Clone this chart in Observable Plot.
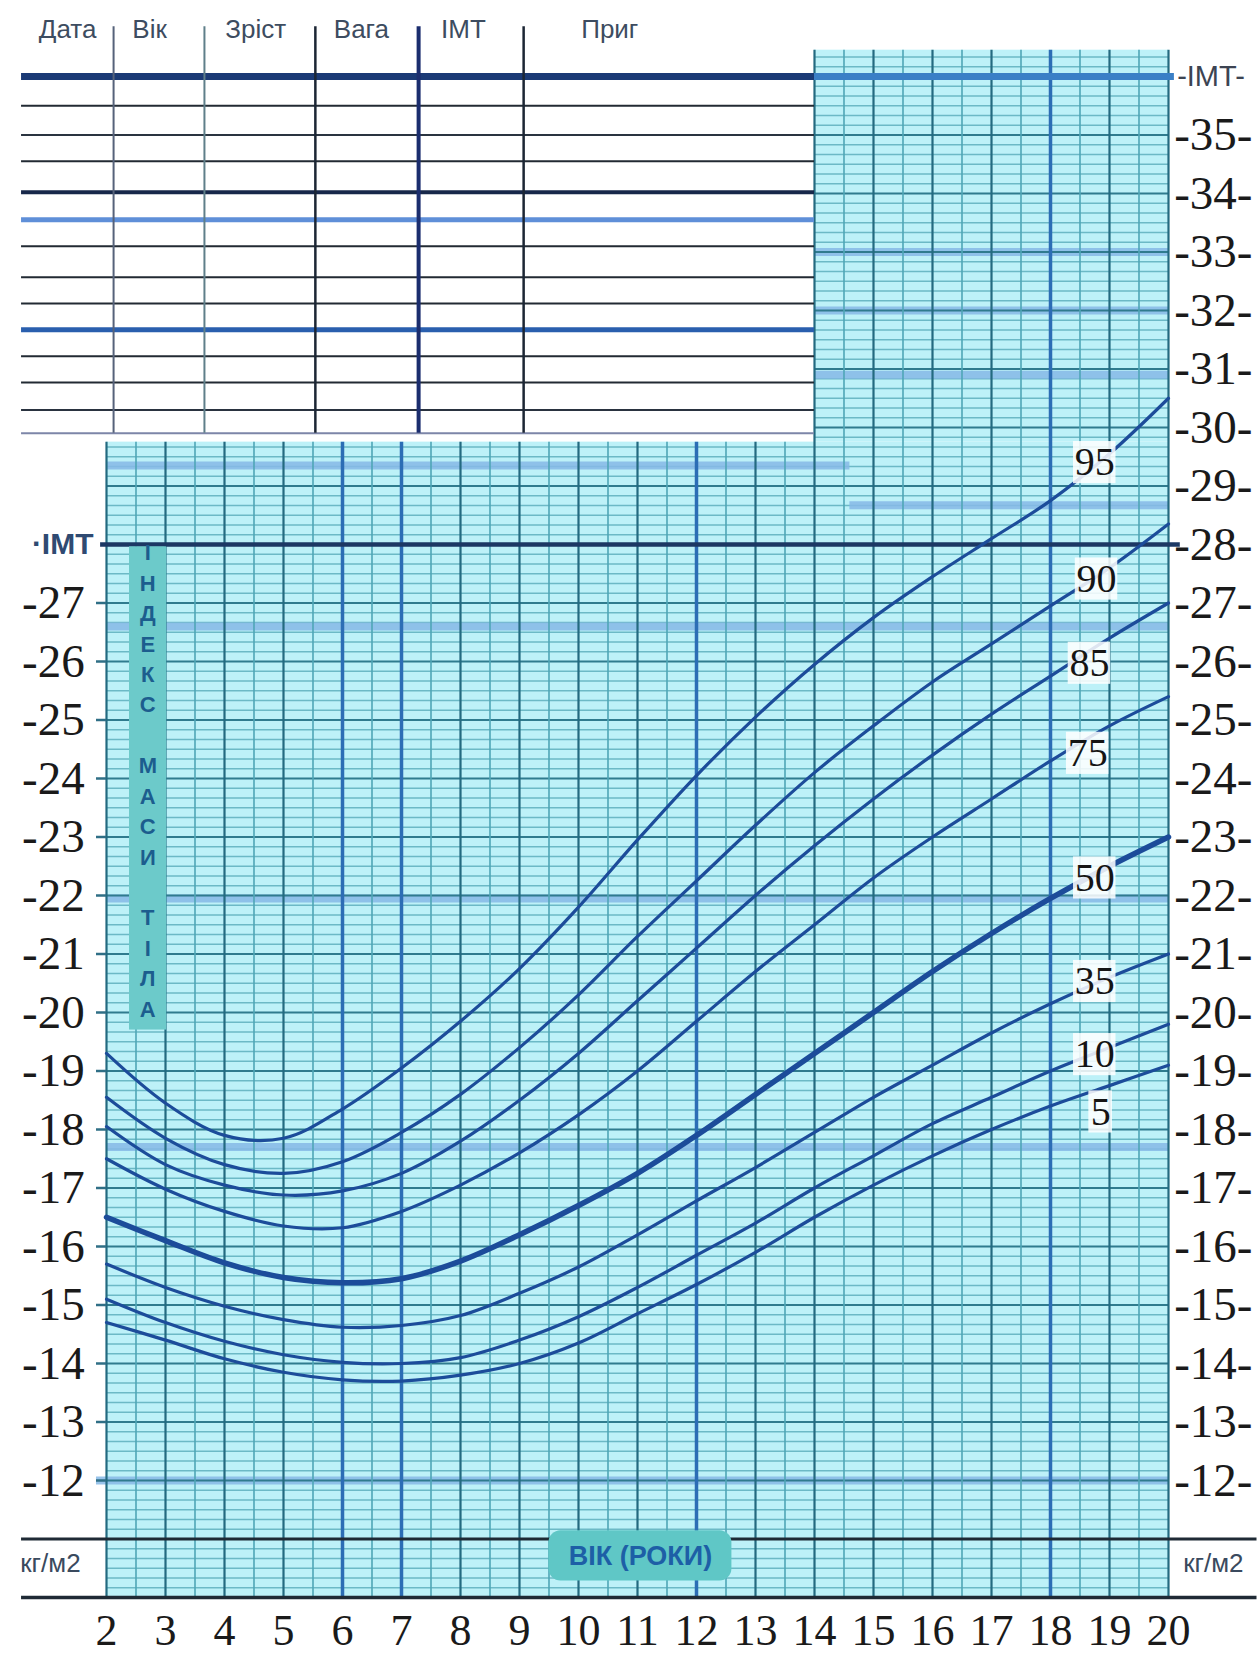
<!DOCTYPE html>
<html><head><meta charset="utf-8">
<script src="https://cdn.jsdelivr.net/npm/d3@7"></script>
<script src="https://cdn.jsdelivr.net/npm/@observablehq/plot@0.6"></script>
<style>
html,body{margin:0;padding:0;background:#fff;}
#chart svg{display:block;}
</style></head><body><div id="chart"></div>
<script>
// ---- data ----
const ages = [2,3,4,5,6,7,8,9,10,11,12,13,14,15,16,17,18,19,20];
const p95 = [19.3,18.45,17.9,17.85,18.35,19.05,19.85,20.75,21.8,22.95,24.05,25.05,25.95,26.75,27.45,28.1,28.75,29.55,30.5];
const p90 = [18.55,17.85,17.4,17.25,17.45,17.95,18.6,19.4,20.3,21.3,22.25,23.2,24.1,24.9,25.65,26.3,26.95,27.6,28.35];
const p85 = [18.05,17.4,17.05,16.88,16.95,17.25,17.8,18.5,19.3,20.2,21.1,22.0,22.85,23.65,24.4,25.1,25.75,26.4,27.0];
const p75 = [17.5,16.98,16.6,16.35,16.32,16.6,17.05,17.6,18.25,19.0,19.85,20.7,21.5,22.3,23.0,23.65,24.3,24.9,25.4];
const p50 = [16.5,16.1,15.72,15.47,15.38,15.45,15.75,16.2,16.7,17.25,17.9,18.6,19.3,20.0,20.7,21.35,21.95,22.5,23.0];
const p35 = [15.7,15.3,14.98,14.75,14.62,14.65,14.82,15.2,15.65,16.2,16.78,17.35,17.95,18.55,19.1,19.65,20.15,20.6,21.0];
const p10 = [15.1,14.7,14.38,14.15,14.02,14.0,14.1,14.4,14.8,15.3,15.85,16.4,17.0,17.55,18.1,18.55,19.0,19.4,19.8];
const p5  = [14.7,14.4,14.08,13.85,13.72,13.7,13.8,14.0,14.35,14.85,15.35,15.9,16.5,17.05,17.55,18.0,18.4,18.75,19.1];
const percentileNames = ["95","90","85","75","50","35","10","5"];
const leftTicks = [12,13,14,15,16,17,18,19,20,21,22,23,24,25,26,27];
const rightTicks = [12,13,14,15,16,17,18,19,20,21,22,23,24,25,26,27,28,29,30,31,32,33,34,35];
const xTicks = [2,3,4,5,6,7,8,9,10,11,12,13,14,15,16,17,18,19,20];
const headers = ["Дата","Вік","Зріст","Вага","IMT","Приг"];
const sideWords = ["ІНДЕКС","МАСИ","ТІЛА"];
const xTitle = "ВІК (РОКИ)";
const unitLabel = "кг/м2";
const axisName = "IMT";

// ---- layout / decoration (not data) ----
const series = [p95,p90,p85,p75,p50,p35,p10,p5];
const labelPos = [[18.75,29.4],[18.78,27.41],[18.66,25.97],[18.63,24.43],[18.75,22.3],[18.75,20.53],[18.75,19.28],[18.85,18.3]];
const headerAt = [1.34,2.73,4.53,6.32,8.05,10.53];
const tableCols = [{a:2.12,c:"#56627a",w:2},{a:3.66,c:"#5f7f8a",w:2},{a:5.54,c:"#1c2634",w:2.5},{a:7.29,c:"#1b2d6e",w:4},{a:9.07,c:"#1c2634",w:2.5}];
const tableRows = [
  {v:36.0,c:"#1b3a75",w:7},{v:35.5,c:"#222a33",w:2},{v:35.0,c:"#2a3440",w:2.2},{v:34.55,c:"#222a33",w:2},
  {v:34.02,c:"#17284a",w:4},{v:33.55,c:"#5f8fd8",w:5},{v:33.1,c:"#222a33",w:2},{v:32.57,c:"#222a33",w:2},
  {v:32.12,c:"#222a33",w:2},{v:31.67,c:"#2a5fae",w:5},{v:31.22,c:"#222a33",w:2},{v:30.77,c:"#222a33",w:2},
  {v:30.3,c:"#2a3340",w:2},{v:29.9,c:"#7d86a8",w:2}
];
const bands = [
  {v:12,a1:1.83,a2:20},{v:17.7,a1:2,a2:20},{v:21.95,a1:2,a2:20},{v:26.6,a1:2,a2:20},
  {v:29.35,a1:2,a2:14.6},{v:28.67,a1:14.6,a2:20},{v:33.0,a1:14,a2:20},{v:32.0,a1:14,a2:20},{v:30.9,a1:14,a2:20}
];
const TOP_L = 29.75, TOP_R = 36.45;
const minor = d3.range(0, 160).map(i => 10 + i/6).filter(v => v <= TOP_R + 1e-9);
const minorLow = minor.filter(v => v < TOP_L && Math.abs(v - Math.round(v)) > 1e-6);
const minorHigh = minor.filter(v => v > TOP_L && Math.abs(v - Math.round(v)) > 1e-6);
const intLow = d3.range(12, 30).filter(v => v !== 28);
const intHigh = d3.range(30, 37);
const halfYears = d3.range(2.5, 20, 1);
const blueYears = [6,7,12,18];
const darkYears = xTicks.filter(a => !blueYears.includes(a));
const vTop = a => a >= 14 ? TOP_R : TOP_L;

const letters = [];
{ let pos = 27.85; sideWords.forEach((w, wi) => { if (wi) pos -= 0.52; for (const ch of w) { letters.push({ch, y: pos}); pos -= 0.52; } }); }

const serif = "'Liberation Serif','Times New Roman',serif";
const narrow = "'Liberation Sans Narrow','Arial Narrow','Liberation Sans',sans-serif";

const marks = [
  // grid background
  Plot.rect([{x1:2,x2:20,y1:10,y2:TOP_L},{x1:14,x2:20,y1:TOP_L,y2:TOP_R}], {x1:"x1",x2:"x2",y1:"y1",y2:"y2",fill:"#bdf1f8"}),
  Plot.ruleY(minorLow, {y: d=>d, x1: ()=>2, x2: ()=>20, stroke:"#6cb9c6", strokeWidth:1.3}),
  Plot.ruleY(minorHigh, {y: d=>d, x1: ()=>14, x2: ()=>20, stroke:"#6cb9c6", strokeWidth:1.3}),
  ...bands.map(b => Plot.ruleY([b.v], {x1: ()=>b.a1, x2: ()=>b.a2, stroke:"#86b9e6", strokeWidth:8, strokeOpacity:0.85})),
  Plot.ruleY(intLow, {y: d=>d, x1: ()=>2, x2: ()=>20, stroke:"#2f7b8e", strokeWidth:2}),
  Plot.ruleY(intHigh, {y: d=>d, x1: ()=>14, x2: ()=>20, stroke:"#2f7b8e", strokeWidth:2}),
  Plot.ruleX(halfYears, {x: d=>d, y1: ()=>10, y2: vTop, stroke:"#4ea6b6", strokeWidth:1.6}),
  Plot.ruleX(darkYears, {x: d=>d, y1: ()=>10, y2: vTop, stroke:"#236a80", strokeWidth:2.2}),
  Plot.ruleX(blueYears, {x: d=>d, y1: ()=>10, y2: vTop, stroke:"#2c6db5", strokeWidth:3.5}),
  // left small ticks
  Plot.ruleY(leftTicks, {y: d=>d, x1: ()=>1.83, x2: ()=>2, stroke:"#2f6f86", strokeWidth:2.5}),
  // table
  ...tableRows.map(r => Plot.ruleY([r.v], {x1: ()=>0.56, x2: ()=>14, stroke:r.c, strokeWidth:r.w})),
  ...tableCols.map(c => Plot.ruleX([c.a], {y1: ()=>29.9, y2: ()=>36.85, stroke:c.c, strokeWidth:c.w})),
  // IMT lines
  Plot.ruleY([36], {x1: ()=>14, x2: ()=>20.1, stroke:"#3a7fc6", strokeWidth:7}),
  Plot.ruleY([28], {x1: ()=>1.9, x2: ()=>20.2, stroke:"#1c3864", strokeWidth:4.5}),
  // bottom frame lines
  Plot.ruleY([11], {x1: ()=>0.56, x2: ()=>21.5, stroke:"#1f2a35", strokeWidth:3}),
  Plot.ruleY([10], {x1: ()=>0.56, x2: ()=>21.5, stroke:"#1f2a35", strokeWidth:3.5}),
  // side vertical strip
  Plot.rect([0], {x1: ()=>2.39, x2: ()=>3.02, y1: ()=>19.7, y2: ()=>27.96, fill:"#6ccaca"}),
  Plot.text(letters, {x: ()=>2.7, y:"y", text:"ch", fill:"#1c5d8e", fontSize:22, fontWeight:"bold", fontFamily:"'Liberation Sans',sans-serif"}),
  // x title box
  Plot.rect([0], {x1: ()=>9.5, x2: ()=>12.6, y1: ()=>10.28, y2: ()=>11.14, fill:"#5fc7c6", rx:12}),
  Plot.text([xTitle], {x: ()=>11.05, y: ()=>10.71, text:d=>d, fill:"#1d5fa6", fontSize:27, fontWeight:"bold", fontFamily:narrow}),
  // percentile curves
  ...series.map((s, i) => Plot.line(ages.map((a, j) => ({a, v: s[j]})), {x:"a", y:"v", stroke:"#1c4c9a", strokeWidth: percentileNames[i]==="50" ? 5.5 : 3.2, curve:"catmull-rom"})),
  // percentile labels
  Plot.rect(percentileNames.map((n,i)=>({n, a:labelPos[i][0], v:labelPos[i][1]})), {x1: d=>d.a-(d.n.length>1?0.36:0.2), x2: d=>d.a+(d.n.length>1?0.36:0.2), y1: d=>d.v-0.36, y2: d=>d.v+0.36, fill:"white", fillOpacity:0.85}),
  Plot.text(percentileNames.map((n,i)=>({n, a:labelPos[i][0], v:labelPos[i][1]})), {x:"a", y:"v", text:"n", fontSize:40, fontFamily:serif, fill:"#151515"}),
  // axis labels
  Plot.text(leftTicks, {x: ()=>1.63, y: d=>d, text: d=>"-"+d, textAnchor:"end", fontSize:47, fontFamily:serif, fill:"#1a1a1a"}),
  Plot.text(rightTicks, {x: ()=>20.76, y: d=>d, text: d=>"-"+d+"-", fontSize:47, fontFamily:serif, fill:"#1a1a1a"}),
  Plot.text(xTicks, {x: d=>d, y: ()=>9.43, text: d=>String(d), fontSize:44, fontFamily:serif, fill:"#1a1a1a"}),
  Plot.text([axisName], {x: ()=>1.78, y: ()=>28, text: d=>"·"+d, textAnchor:"end", fontSize:30, fontWeight:"bold", fontFamily:narrow, fill:"#2f4a72"}),
  Plot.text([axisName], {x: ()=>20.72, y: ()=>36, text: d=>"-"+d+"-", fontSize:29, fontFamily:narrow, fill:"#3c4452"}),
  Plot.text([unitLabel], {x: ()=>1.05, y: ()=>10.58, text: d=>d, fontSize:26, fontFamily:narrow, fill:"#3a4a5e"}),
  Plot.text([unitLabel], {x: ()=>20.76, y: ()=>10.58, text: d=>d, fontSize:26, fontFamily:narrow, fill:"#3a4a5e"}),
  Plot.text(headers.map((h,i)=>({h, a: headerAt[i]})), {x:"a", y: ()=>36.8, text:"h", fontSize:26, fontFamily:narrow, fill:"#3d4c60"})
];

const chart = Plot.plot({
  width: 1257, height: 1657,
  marginLeft: 106, marginRight: 89, marginTop: 46.75, marginBottom: 60,
  x: {domain: [2, 20], axis: null},
  y: {domain: [10, 36.5], axis: null},
  style: {background: "white"},
  marks
});
document.getElementById("chart").appendChild(chart);
</script>
</body></html>
